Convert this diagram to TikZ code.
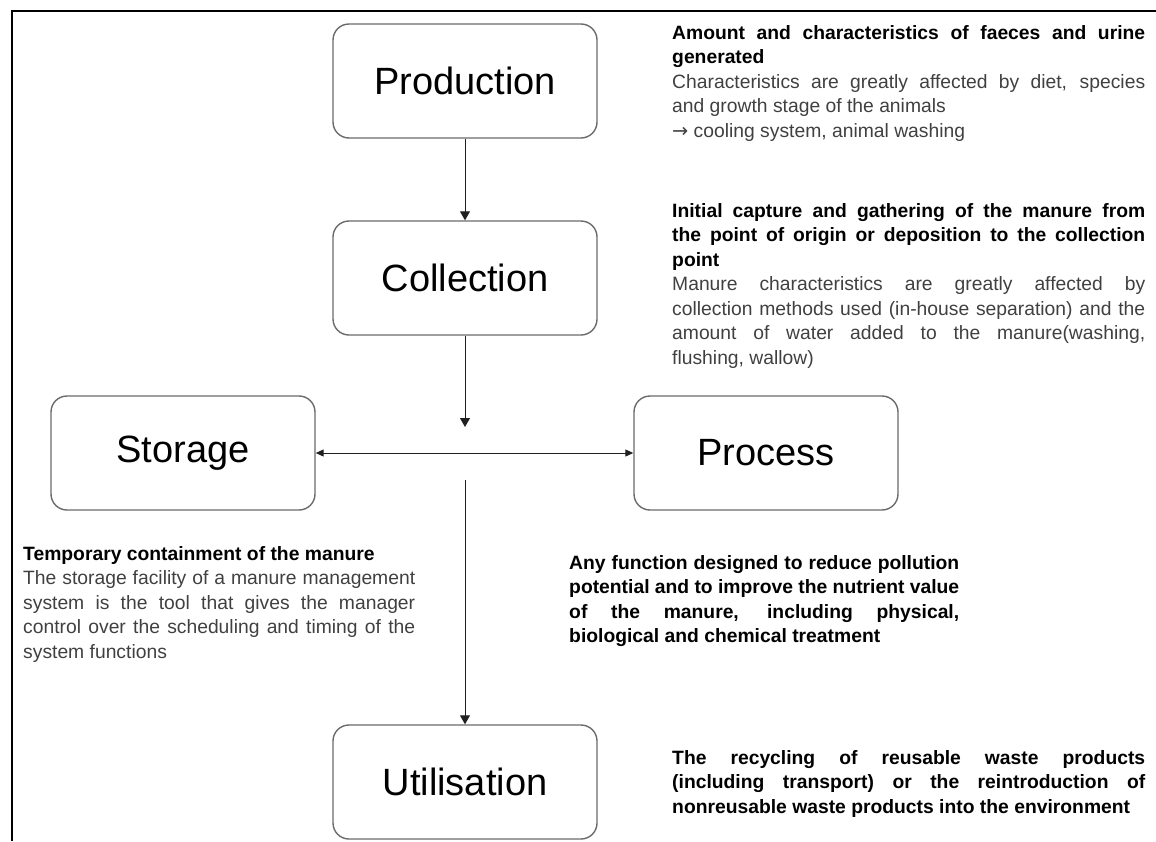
\documentclass[tikz,border=0pt]{standalone}
\usepackage{fontspec}
\setmainfont{Liberation Sans}
\newfontfamily\symfont{DejaVu Sans}
\usetikzlibrary{arrows.meta, positioning}
\definecolor{boxline}{HTML}{6A6A6A}
\definecolor{bodytext}{HTML}{404040}
\definecolor{flowline}{HTML}{202020}

\begin{document}
\hyphenpenalty=10000
\exhyphenpenalty=10000
\hbadness=10000
\begin{tikzpicture}[x=1pt, y=-1pt,
  >={Triangle[length=9pt, width=10pt]},
  stage/.style={draw=boxline, line width=1.4pt, rounded corners=16pt,
    minimum width=264pt, minimum height=114pt, inner sep=0pt,
    font=\fontsize{38}{42}\selectfont},
  note/.style={anchor=north west, inner sep=0pt, align=justify,
    text width=#1, font=\fontsize{19.3}{24.5}\selectfont},
  flow/.style={draw=flowline, line width=1pt, ->},
  twoway/.style={draw=flowline, line width=1pt,
    {Triangle[length=8pt, width=7pt]}-{Triangle[length=8pt, width=7pt]}},
]

% Page and frame
\useasboundingbox (0,0) rectangle (1156,841);
\draw[line width=2pt] (12,841) -- (12,11) -- (1156,11);

% === Stages ===
\node[stage] (production)  at (465,81)  {Production};
\node[stage] (collection)  at (465,278) {Collection};
\node[stage] (storage)     at (183,453) {Storage};
\node[stage] (process)     at (766,453) {Process};
\node[stage] (utilisation) at (465,782) {Utilisation};

% === Connectors ===
\coordinate (join) at (465,427);
\coordinate (fork) at (465,480);
\draw[flow] (production) -- (collection);
\draw[flow] (collection) -- (join);
\draw[twoway] (storage) -- (process);
\draw[flow] (fork) -- (utilisation);

% === Notes ===
\node[note=473pt] (prodnote) at (672,25)
  {\textbf{Amount and characteristics of faeces and urine\linebreak generated}\par
   {\color{bodytext}Characteristics are greatly affected by diet, species\linebreak
   and growth stage of the animals\par
   {\symfont →} cooling system, animal washing}};

\node[note=473pt] (collnote) at (672,203)
  {\textbf{Initial capture and gathering of the manure from\linebreak
   the point of origin or deposition to the collection\linebreak point}\par
   {\color{bodytext}Manure characteristics are greatly affected by\linebreak
   collection methods used (in-house separation) and the\linebreak
   amount of water added to the manure(washing,\linebreak
   flushing, wallow)}};

\node[note=392pt] (storenote) at (23,546)
  {\textbf{Temporary containment of the manure}\par
   {\color{bodytext}The storage facility of a manure management\linebreak
   system is the tool that gives the manager\linebreak
   control over the scheduling and timing of the\linebreak
   system functions}};

\node[note=390pt] (procnote) at (569,555)
  {\textbf{Any function designed to reduce pollution\linebreak
   potential and to improve the nutrient value\linebreak
   of the manure, including physical,\linebreak
   biological and chemical treatment}};

\node[note=473pt] (utilnote) at (672,750)
  {\textbf{The recycling of reusable waste products\linebreak
   (including transport) or the reintroduction of\linebreak
   nonreusable waste products into the environment}};

\end{tikzpicture}
\end{document}
